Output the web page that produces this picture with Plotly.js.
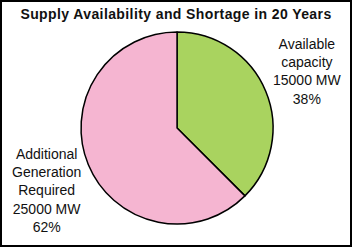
<!DOCTYPE html>
<html><head><meta charset="utf-8">
<script src="https://cdn.plot.ly/plotly-3.0.1.min.js"></script>
<style>
html,body{margin:0;padding:0;background:#fff;}
#wrap{width:352px;height:247px;box-sizing:border-box;border:2px solid #000;}
#chart{width:348px;height:243px;}
.gtitle{letter-spacing:0.4px;}
</style></head><body>
<div id="wrap"><div id="chart"></div></div>
<script>
const categories = ["Available capacity", "Additional Generation Required"];
const labelLines = [["Available", "capacity"], ["Additional", "Generation", "Required"]];
const values = [15000, 25000];
const units = "MW";
const percentLabels = ["38%", "62%"];
const colors = ["#a9d35f", "#f5b5d1"];
const titleText = "Supply Availability and Shortage in 20 Years";

const annPos = [{x: 0.876, y: 0.716}, {x: 0.129, y: 0.226}];
const annotations = categories.map((c, i) => ({
  xref: "paper", yref: "paper", x: annPos[i].x, y: annPos[i].y,
  xanchor: "center", yanchor: "middle", showarrow: false, align: "center",
  text: labelLines[i].concat([values[i] + " " + units, percentLabels[i]]).join("<br>"),
  font: {family: "Liberation Sans, Arial, sans-serif", size: 14, color: "#111"}
}));

Plotly.newPlot("chart", [{
  type: "pie",
  labels: categories,
  values: values,
  sort: false,
  direction: "clockwise",
  rotation: 0,
  textinfo: "none",
  hoverinfo: "none",
  marker: {colors: colors, line: {color: "#000", width: 1.5}},
  domain: {x: [0.227, 0.779], y: [0.0864, 0.8765]}
}], {
  width: 348, height: 243,
  margin: {l: 0, r: 0, t: 0, b: 0},
  showlegend: false,
  paper_bgcolor: "#fff",
  title: {text: "<b>" + titleText + "</b>", x: 0.5, xanchor: "center", y: 0.95, yanchor: "middle",
    font: {family: "Liberation Sans, Arial, sans-serif", size: 14, color: "#111"}},
  annotations: annotations
}, {staticPlot: true});
</script></body></html>
